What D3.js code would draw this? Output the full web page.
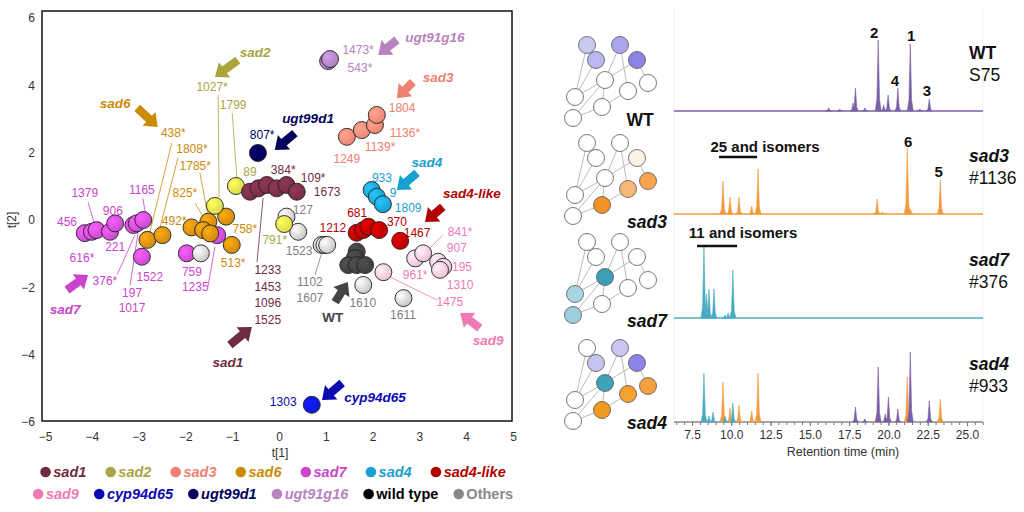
<!DOCTYPE html>
<html>
<head>
<meta charset="utf-8">
<script src="https://cdn.jsdelivr.net/npm/d3@7"></script>
<style>
  body { margin: 0; background: #fff; }
  svg { font-family: Arial, "Liberation Sans", sans-serif; }
</style>
</head>
<body>
<svg id="chart" width="1024" height="512"></svg>
<script>
// ---------- scatter data ----------
const groups = ["sad1", "sad2", "sad3", "sad6", "sad7", "sad4", "sad4-like",
  "sad9", "cyp94d65", "ugt99d1", "ugt91g16", "wild type", "Others"];

// [group, t1, t2]  (draw order = back to front)
const points = [
  ["sad7", -4.15, -0.39], ["sad7", -4.00, -0.35], ["sad7", -3.90, -0.30], ["sad7", -3.61, -0.35],
  ["sad7", -3.50, -0.10], ["sad7", -3.11, -0.15], ["sad7", -3.04, -0.10], ["sad7", -2.90, 0.00],
  ["sad7", -2.93, -1.09], ["sad7", -1.97, -0.99], ["sad7", -1.32, -0.45],
  ["sad6", -2.81, -0.59], ["sad6", -2.49, -0.45], ["sad6", -1.87, -0.22], ["sad6", -1.51, -0.05],
  ["sad6", -1.62, -0.30], ["sad6", -1.47, -0.40], ["sad6", -1.13, 0.10], ["sad6", -1.01, -0.74],
  ["Others", -1.67, -0.99], ["Others", 0.16, 0.10], ["Others", 0.41, -0.35],
  ["Others", 0.91, -0.74], ["Others", 0.97, -0.74], ["Others", 1.03, -0.74],
  ["Others", 1.80, -1.93], ["Others", 2.66, -2.32],
  ["sad2", -1.37, 0.42], ["sad2", -0.92, 1.01], ["sad2", 0.11, -0.12],
  ["sad1", -0.62, 0.84], ["sad1", -0.44, 0.94], ["sad1", -0.26, 1.04], ["sad1", -0.05, 0.94],
  ["sad1", 0.16, 1.04], ["sad1", 0.38, 0.84],
  ["ugt99d1", -0.45, 1.99],
  ["sad3", 1.45, 2.47], ["sad3", 1.77, 2.67], ["sad3", 2.05, 2.82], ["sad3", 2.09, 3.12],
  ["ugt91g16", 1.05, 4.72], ["ugt91g16", 1.09, 4.78],
  ["sad4", 1.98, 0.89], ["sad4", 2.09, 0.69], ["sad4", 2.22, 0.47],
  ["sad4-like", 1.66, -0.38], ["sad4-like", 1.80, -0.30], ["sad4-like", 1.91, -0.20],
  ["sad4-like", 2.14, -0.30], ["sad4-like", 2.59, -0.62],
  ["wild type", 1.66, -0.94], ["wild type", 1.62, -1.13], ["wild type", 1.48, -1.34],
  ["wild type", 1.66, -1.34], ["wild type", 1.84, -1.34],
  ["sad9", 2.23, -1.55], ["sad9", 2.91, -1.14], ["sad9", 3.08, -0.99], ["sad9", 3.40, -1.24],
  ["sad9", 3.51, -1.39], ["sad9", 3.44, -1.48],
  ["cyp94d65", 0.70, -5.49]
];

// sample number labels [text, group, t1, t2]
const sampleLabels = [
  ["1027*", "sad2", -1.43, 3.95], ["1799", "sad2", -0.98, 3.42], ["89", "sad2", -0.62, 1.43],
  ["791*", "sad2", -0.09, -0.59],
  ["438*", "sad6", -2.26, 2.58], ["1808*", "sad6", -1.86, 2.11], ["1785*", "sad6", -1.79, 1.60],
  ["825*", "sad6", -2.01, 0.80], ["492*", "sad6", -2.24, -0.03], ["758*", "sad6", -0.73, -0.27],
  ["513*", "sad6", -0.98, -1.28],
  ["1379", "sad7", -4.15, 0.80], ["906", "sad7", -3.55, 0.27], ["456", "sad7", -4.53, -0.06],
  ["1165", "sad7", -2.93, 0.89], ["221", "sad7", -3.50, -0.80], ["616*", "sad7", -4.21, -1.13],
  ["376*", "sad7", -3.72, -1.81], ["197", "sad7", -3.14, -2.17], ["1017", "sad7", -3.14, -2.61],
  ["1522", "sad7", -2.76, -1.69], ["759", "sad7", -1.86, -1.54], ["1235", "sad7", -1.79, -1.99],
  ["127", "Others", 0.51, 0.30], ["1523", "Others", 0.43, -0.92], ["1102", "Others", 0.66, -1.84],
  ["1607", "Others", 0.66, -2.32], ["1610", "Others", 1.79, -2.47], ["1611", "Others", 2.65, -2.82],
  ["1233", "sad1", -0.24, -1.49], ["1453", "sad1", -0.24, -1.99], ["1096", "sad1", -0.24, -2.47],
  ["1525", "sad1", -0.24, -2.97], ["384*", "sad1", 0.09, 1.49], ["109*", "sad1", 0.73, 1.25],
  ["1673", "sad1", 1.03, 0.83],
  ["807*", "ugt99d1", -0.36, 2.52],
  ["1473*", "ugt91g16", 1.69, 5.05], ["543*", "ugt91g16", 1.73, 4.51],
  ["1804", "sad3", 2.63, 3.33], ["1136*", "sad3", 2.69, 2.58], ["1139*", "sad3", 2.16, 2.17],
  ["1249", "sad3", 1.45, 1.81],
  ["933", "sad4", 2.20, 1.25], ["9", "sad4", 2.44, 0.80], ["1809", "sad4", 2.76, 0.36],
  ["681", "sad4-like", 1.67, 0.21], ["370", "sad4-like", 2.52, -0.06],
  ["1212", "sad4-like", 1.15, -0.24], ["1467", "sad4-like", 2.95, -0.39],
  ["841*", "sad9", 3.87, -0.36], ["907", "sad9", 3.80, -0.83], ["961*", "sad9", 2.91, -1.63],
  ["195", "sad9", 3.91, -1.40], ["1310", "sad9", 3.87, -1.93], ["1475", "sad9", 3.65, -2.44],
  ["1303", "cyp94d65", 0.09, -5.41]
];

// group name callouts [text, group, t1, t2]
const groupLabels = [
  ["sad2", "sad2", -0.51, 4.99], ["sad6", "sad6", -3.50, 3.47], ["sad7", "sad7", -4.57, -2.64],
  ["sad1", "sad1", -1.09, -4.22], ["ugt99d1", "ugt99d1", 0.62, 3.03],
  ["ugt91g16", "ugt91g16", 3.33, 5.44], ["sad3", "sad3", 3.40, 4.25], ["sad4", "sad4", 3.16, 1.72],
  ["sad4-like", "sad4-like", 4.12, 0.80], ["sad9", "sad9", 4.47, -3.56],
  ["WT", "wild type", 1.15, -2.88], ["cyp94d65", "cyp94d65", 2.05, -5.26]
];

// arrows [group, tail t1, tail t2, head t1, head t2]
const arrows = [
  ["sad2", -0.88, 4.75, -1.37, 4.25], ["sad6", -3.03, 3.33, -2.59, 2.76],
  ["sad7", -4.53, -2.08, -4.08, -1.63], ["sad1", -1.05, -3.71, -0.58, -3.18],
  ["ugt99d1", 0.34, 2.58, -0.09, 2.08], ["ugt91g16", 2.52, 5.35, 2.12, 4.90],
  ["sad3", 2.86, 4.10, 2.52, 3.62], ["sad4", 2.95, 1.40, 2.52, 0.89],
  ["sad4-like", 3.50, 0.39, 3.12, -0.06], ["sad9", 4.29, -3.21, 3.87, -2.76],
  ["wild type", 1.20, -2.44, 1.47, -1.84], ["cyp94d65", 1.35, -4.84, 0.92, -5.35]
];

// leader lines [group, t1a, t2a, t1b, t2b]
const leaders = [
  ["sad2", -1.30, 3.71, -1.28, 0.68], ["sad2", -1.00, 3.18, -0.90, 1.25],
  ["sad6", -2.29, 2.29, -2.76, -0.36], ["sad6", -2.16, 1.84, -2.54, -0.21],
  ["sad6", -1.69, 1.40, -1.52, 0.15], ["sad6", -1.79, 0.50, -1.62, 0.09],
  ["sad7", -4.08, 0.53, -3.95, -0.09], ["sad7", -2.91, 0.65, -2.86, 0.24],
  ["sad7", -3.46, -1.63, -3.08, -0.45], ["sad7", -3.18, -1.93, -3.01, -0.36],
  ["sad7", -1.52, -1.99, -1.37, -0.80],
  ["sad1", -0.34, 0.65, -0.47, -1.25], ["Others", 0.77, -1.63, 0.92, -0.95],
  ["sad9", 3.50, -0.45, 3.12, -0.98], ["sad9", 2.37, -1.69, 3.38, -2.38]
];

const xTicks = [-5, -4, -3, -2, -1, 0, 1, 2, 3, 4, 5];
const yTicks = [-6, -4, -2, 0, 2, 4, 6];

const legendColor = {
  "sad1": "#6e2c40", "sad2": "#a9a543", "sad3": "#f08070", "sad6": "#cc8a0a",
  "sad7": "#cc44cc", "sad4": "#1aa0d0", "sad4-like": "#b00000", "sad9": "#f07ab4",
  "cyp94d65": "#0a0ab0", "ugt99d1": "#00005a", "ugt91g16": "#b883c0",
  "wild type": "#000000", "Others": "#888888"
};
const pointFill = {
  "sad1": "#7a2f47", "sad2": "#e4e44e", "sad3": "#f88b78", "sad6": "#d89010",
  "sad7": "#d24ed8", "sad4": "#1ea6d8", "sad4-like": "#c20000", "sad9": "#fbcadb",
  "cyp94d65": "#0c18d8", "ugt99d1": "#00005e", "ugt91g16": "#b585c5",
  "wild type": "#424242", "Others": "#e2e2e2"
};
const textColor = Object.assign({}, legendColor, { "wild type": "#444444", "Others": "#808080" });

// ---------- chromatogram data ----------
const traceNames = ["WT", "sad3", "sad7", "sad4"];
const traceSub = ["S75", "#1136", "#376", "#933"];
const purplePeaksWT = [[16.2, 3], [16.9, 2], [17.75, 8], [17.9, 23], [18.5, 3], [19.35, 71], [19.7, 6],
  [19.98, 16], [20.6, 23], [21.39, 67], [22.0, 2], [22.6, 12]];
const orangePeaksSad3 = [[9.47, 33], [9.92, 17], [10.49, 17], [11.3, 8], [11.7, 45], [19.28, 15],
  [19.6, 2], [21.2, 66], [21.4, 5], [23.3, 34]];
const tealPeaksSad7 = [[8.26, 71], [8.42, 24], [8.58, 29], [8.9, 29], [9.6, 3], [9.8, 5], [10.1, 48]];
const tealPeaksSad4 = [[8.26, 49], [8.58, 6], [8.84, 10], [9.6, 6], [10.1, 19]];
const orangePeaksSad4 = [[9.47, 40], [9.92, 14], [10.49, 17], [11.3, 11], [11.7, 49], [19.28, 8],
  [21.2, 45], [23.3, 23]];
const purplePeaksSad4 = [[17.9, 15], [18.5, 3], [19.35, 55], [19.8, 8], [20.0, 25], [20.6, 13],
  [21.39, 70], [22.6, 21]];
const peakNumbers = [[0, "2", 19.09, 78], [0, "1", 21.45, 75], [0, "4", 20.42, 30], [0, "3", 22.45, 20],
  [1, "6", 21.25, 72], [1, "5", 23.2, 42]];
const isomerNotes = [[1, "25 and isomers", 12.15, 67, 9.22, 11.64, 57],
  [2, "11 and isomers", 10.75, 85, 7.82, 10.37, 72]];
const rtTicks = [7.5, 10, 12.5, 15, 17.5, 20, 22.5, 25];

// ---------- network data ----------
const netNodes = [[587, 45], [596, 60], [620, 45], [637, 60], [605, 80], [628, 91], [648, 83],
  [575, 97], [602, 107], [573, 118]];
const netEdges = [[0, 7], [1, 7], [2, 4], [3, 4], [2, 5], [3, 6], [4, 7], [4, 9], [4, 8], [5, 8], [8, 9]];
const netColors = [
  ["#cbc8f2", "#bbb7ef", "#aaa5ec", "#8a84e6", "#fff", "#fff", "#fff", "#fff", "#fff", "#fff"],
  ["#fff", "#fff", "#fff", "#fdf2e4", "#fff", "#f9b679", "#f8a452", "#fff", "#f2902a", "#fff"],
  ["#fff", "#fff", "#fff", "#fff", "#3a9fb5", "#fff", "#fff", "#a6d6e1", "#fff", "#9dcfdc"],
  ["#fff", "#c7c4f2", "#c9c6f4", "#8b85ea", "#3ea3b8", "#f5a030", "#f6a040", "#fff", "#f29a20", "#fff"]
];

const svg = d3.select("#chart");
const defs = svg.append("defs");

// ================= scatter =================
const x = d3.scaleLinear().domain([-5, 5]).range([45, 513]);
const y = d3.scaleLinear().domain([-6, 6]).range([422, 18]);

const scatter = svg.append("g");

scatter.append("rect")
  .attr("x", 42).attr("y", 11)
  .attr("width", 470).attr("height", 410)
  .attr("fill", "none").attr("stroke", "#111").attr("stroke-width", 1.5);

const xAxis = d3.axisBottom(x).tickValues(xTicks).tickSize(0).tickPadding(11);
const yAxis = d3.axisLeft(y).tickValues(yTicks).tickSize(0).tickPadding(7);

scatter.append("g").attr("transform", "translate(0,421)").call(xAxis)
  .call(g => g.select(".domain").remove())
  .selectAll("text").attr("font-size", 12).attr("fill", "#333");
scatter.append("g").attr("transform", "translate(42,0)").call(yAxis)
  .call(g => g.select(".domain").remove())
  .selectAll("text").attr("font-size", 12).attr("fill", "#333");

scatter.append("text").attr("x", 280).attr("y", 457).attr("text-anchor", "middle")
  .attr("font-size", 12).attr("fill", "#333").text("t[1]");
scatter.append("text").attr("transform", "translate(16,220) rotate(-90)")
  .attr("text-anchor", "middle").attr("font-size", 12).attr("fill", "#333").text("t[2]");

// gradients for shaded points
groups.forEach((gname, i) => {
  const c = pointFill[gname];
  const grad = defs.append("radialGradient").attr("id", "pg" + i)
    .attr("cx", "35%").attr("cy", "35%").attr("r", "70%");
  grad.append("stop").attr("offset", "0%").attr("stop-color", d3.color(c).brighter(gname === "Others" ? 0.4 : 0.5));
  grad.append("stop").attr("offset", "100%").attr("stop-color", gname === "Others" ? "#c4c4c4" : d3.color(c).darker(0.15));
});

// leader lines
scatter.append("g").selectAll("line").data(leaders).join("line")
  .attr("x1", d => x(d[1])).attr("y1", d => y(d[2]))
  .attr("x2", d => x(d[3])).attr("y2", d => y(d[4]))
  .attr("stroke", d => textColor[d[0]]).attr("stroke-width", 0.8);

// points
scatter.append("g").selectAll("circle").data(points).join("circle")
  .attr("cx", d => x(d[1])).attr("cy", d => y(d[2]))
  .attr("r", 8.5)
  .attr("fill", d => `url(#pg${groups.indexOf(d[0])})`)
  .attr("stroke", "#222").attr("stroke-width", 0.9);

// arrows
const arrowPath = d => {
  const tx = x(d[1]), ty = y(d[2]), hx = x(d[3]), hy = y(d[4]);
  const len = Math.hypot(hx - tx, hy - ty);
  const ux = (hx - tx) / len, uy = (hy - ty) / len;
  const nx = -uy, ny = ux;
  const sw = 4.2, hw = 9.5, hl = 12;
  const bx = hx - ux * hl, by = hy - uy * hl;
  const p = [
    [tx + nx * sw, ty + ny * sw], [bx + nx * sw, by + ny * sw], [bx + nx * hw, by + ny * hw],
    [hx, hy],
    [bx - nx * hw, by - ny * hw], [bx - nx * sw, by - ny * sw], [tx - nx * sw, ty - ny * sw]
  ];
  return "M" + p.map(q => q.join(",")).join("L") + "Z";
};
scatter.append("g").selectAll("path").data(arrows).join("path")
  .attr("d", arrowPath)
  .attr("fill", d => d[0] === "wild type" ? "#444" : (d[0] === "sad2" ? "#a9a53a" : legendColor[d[0]]));

// sample labels
scatter.append("g").selectAll("text").data(sampleLabels).join("text")
  .attr("x", d => x(d[2])).attr("y", d => y(d[3]))
  .attr("dy", "0.36em").attr("text-anchor", "middle")
  .attr("font-size", 12).attr("fill", d => textColor[d[1]])
  .text(d => d[0]);

// group callouts
scatter.append("g").selectAll("text").data(groupLabels).join("text")
  .attr("x", d => x(d[2])).attr("y", d => y(d[3]))
  .attr("dy", "0.36em").attr("text-anchor", "middle")
  .attr("font-size", 13.5).attr("font-weight", "bold")
  .attr("font-style", d => d[0] === "WT" ? "normal" : "italic")
  .attr("fill", d => textColor[d[1]])
  .text(d => d[0]);

// legend
const legendRows = [groups.slice(0, 7), groups.slice(7)];
const legendGaps = [19, 15];
legendRows.forEach((row, ri) => {
  const g = svg.append("g");
  let cx = 0;
  row.forEach(name => {
    const item = g.append("g");
    item.append("circle").attr("r", 5.3).attr("cx", 5.3).attr("fill", legendColor[name]);
    const t = item.append("text").attr("x", 13).attr("dy", "0.36em")
      .attr("font-size", 14.5).attr("font-weight", "bold")
      .attr("font-style", (name === "wild type" || name === "Others") ? "normal" : "italic")
      .attr("fill", name === "wild type" ? "#000" : (name === "Others" ? "#888" : legendColor[name]))
      .text(name);
    const w = 13 + t.node().getComputedTextLength();
    item.attr("transform", `translate(${cx},0)`);
    cx += w + legendGaps[ri];
  });
  const total = cx - legendGaps[ri];
  g.attr("transform", `translate(${273 - total / 2},${[472, 494][ri]})`);
});

// ================= chromatograms =================
const rt = d3.scaleLinear().domain([7.5, 25]).range([692, 967]);
const inten = d3.scaleLinear().domain([0, 100]).range([0, 100]);
const baselines = [111, 214, 318, 422];
const traceColor = { purple: "#7b5fa6", orange: "#f29a3e", teal: "#48abc2" };

const chrom = svg.append("g");
chrom.append("line").attr("x1", 674).attr("x2", 674).attr("y1", 8).attr("y2", 430)
  .attr("stroke", "#f0f0f0");
chrom.append("line").attr("x1", 983).attr("x2", 983).attr("y1", 8).attr("y2", 430)
  .attr("stroke", "#f0f0f0");

const peakArea = (base) => d3.area()
  .x(d => rt(d[0]))
  .y0(base)
  .y1(d => base - inten(d[1]));

const drawPeaks = (peaks, ti, color) => {
  const w = 0.19;
  const base = baselines[ti];
  chrom.append("g").selectAll("path").data(peaks).join("path")
    .attr("d", p => peakArea(base)([
      [p[0] - w, 0], [p[0] - w * 0.45, p[1] * 0.16], [p[0] - w * 0.14, p[1] * 0.72], [p[0], p[1]],
      [p[0] + w * 0.14, p[1] * 0.72], [p[0] + w * 0.45, p[1] * 0.16], [p[0] + w, 0]
    ]))
    .attr("fill", color).attr("stroke", color).attr("stroke-width", 0.6);
};

const drawBase = (ti, color) => {
  chrom.append("line").attr("x1", 674).attr("x2", 983)
    .attr("y1", baselines[ti]).attr("y2", baselines[ti])
    .attr("stroke", color).attr("stroke-width", 1.6);
};

drawBase(0, traceColor.purple);
drawPeaks(purplePeaksWT, 0, traceColor.purple);
drawBase(1, traceColor.orange);
drawPeaks(orangePeaksSad3, 1, traceColor.orange);
drawBase(2, traceColor.teal);
drawPeaks(tealPeaksSad7, 2, traceColor.teal);

// bottom axis for sad4 trace
const minorTicks = d3.range(6.5, 26.01, 0.5);
chrom.append("g").attr("transform", `translate(0,${baselines[3]})`)
  .call(d3.axisBottom(rt).tickValues(minorTicks).tickSize(3).tickFormat(""))
  .call(g => g.select(".domain").remove())
  .selectAll("line").attr("stroke", "#777");
chrom.append("g").attr("transform", `translate(0,${baselines[3]})`)
  .call(d3.axisBottom(rt).tickValues(rtTicks).tickSize(4).tickSizeOuter(0).tickPadding(4)
    .tickFormat(d3.format(".1f")))
  .call(g => g.select(".domain").remove())
  .call(g => g.selectAll("line").attr("stroke", "#777"))
  .selectAll("text").attr("font-size", 12).attr("fill", "#333");
chrom.append("line").attr("x1", 674).attr("x2", 983)
  .attr("y1", baselines[3]).attr("y2", baselines[3])
  .attr("stroke", "#888").attr("stroke-width", 1.3);

drawPeaks(orangePeaksSad4, 3, traceColor.orange);
drawPeaks(purplePeaksSad4, 3, traceColor.purple);
drawPeaks(tealPeaksSad4, 3, traceColor.teal);

chrom.append("text").attr("x", 843).attr("y", 456).attr("text-anchor", "middle")
  .attr("font-size", 12.5).attr("fill", "#333").text("Retention time (min)");

// peak numbers
chrom.append("g").selectAll("text").data(peakNumbers).join("text")
  .attr("x", d => rt(d[2])).attr("y", d => baselines[d[0]] - inten(d[3]))
  .attr("dy", "0.36em").attr("text-anchor", "middle")
  .attr("font-size", 15).attr("font-weight", "bold").attr("fill", "#111")
  .text(d => d[1]);

// isomer notes
const notes = chrom.append("g").selectAll("g").data(isomerNotes).join("g");
notes.append("text")
  .attr("x", d => rt(d[2])).attr("y", d => baselines[d[0]] - inten(d[3]))
  .attr("dy", "0.36em").attr("text-anchor", "middle")
  .attr("font-size", 15).attr("font-weight", "bold").attr("fill", "#111")
  .text(d => d[1]);
notes.append("line")
  .attr("x1", d => rt(d[4])).attr("x2", d => rt(d[5]))
  .attr("y1", d => baselines[d[0]] - inten(d[6])).attr("y2", d => baselines[d[0]] - inten(d[6]))
  .attr("stroke", "#111").attr("stroke-width", 2.5);

// right-hand sample names
traceNames.forEach((name, i) => {
  const base = baselines[i];
  chrom.append("text").attr("x", 969).attr("y", base - 58).attr("dy", "0.36em")
    .attr("font-size", 17.5).attr("font-weight", "bold")
    .attr("font-style", name === "WT" ? "normal" : "italic").attr("fill", "#111")
    .text(name);
  chrom.append("text").attr("x", 969).attr("y", base - 36).attr("dy", "0.36em")
    .attr("font-size", 17.5).attr("fill", "#111")
    .text(traceSub[i]);
});

// ================= networks =================
const netOffsets = [0, 98, 197, 303];
const netLabelPos = [[640, 120], [647, 222], [647, 321], [647, 423]];
netOffsets.forEach((off, ni) => {
  const g = svg.append("g").attr("transform", `translate(0,${off})`);
  g.selectAll("line").data(netEdges).join("line")
    .attr("x1", e => netNodes[e[0]][0]).attr("y1", e => netNodes[e[0]][1])
    .attr("x2", e => netNodes[e[1]][0]).attr("y2", e => netNodes[e[1]][1])
    .attr("stroke", "#aaa").attr("stroke-width", 0.8);
  g.selectAll("circle").data(netNodes).join("circle")
    .attr("cx", d => d[0]).attr("cy", d => d[1]).attr("r", 8.5)
    .attr("fill", (d, i) => netColors[ni][i])
    .attr("stroke", "#555").attr("stroke-width", 0.8);
  svg.append("text").attr("x", netLabelPos[ni][0]).attr("y", netLabelPos[ni][1])
    .attr("dy", "0.36em").attr("text-anchor", "middle")
    .attr("font-size", 17.5).attr("font-weight", "bold")
    .attr("font-style", ni === 0 ? "normal" : "italic").attr("fill", "#111")
    .text(traceNames[ni]);
});
</script>
</body>
</html>
